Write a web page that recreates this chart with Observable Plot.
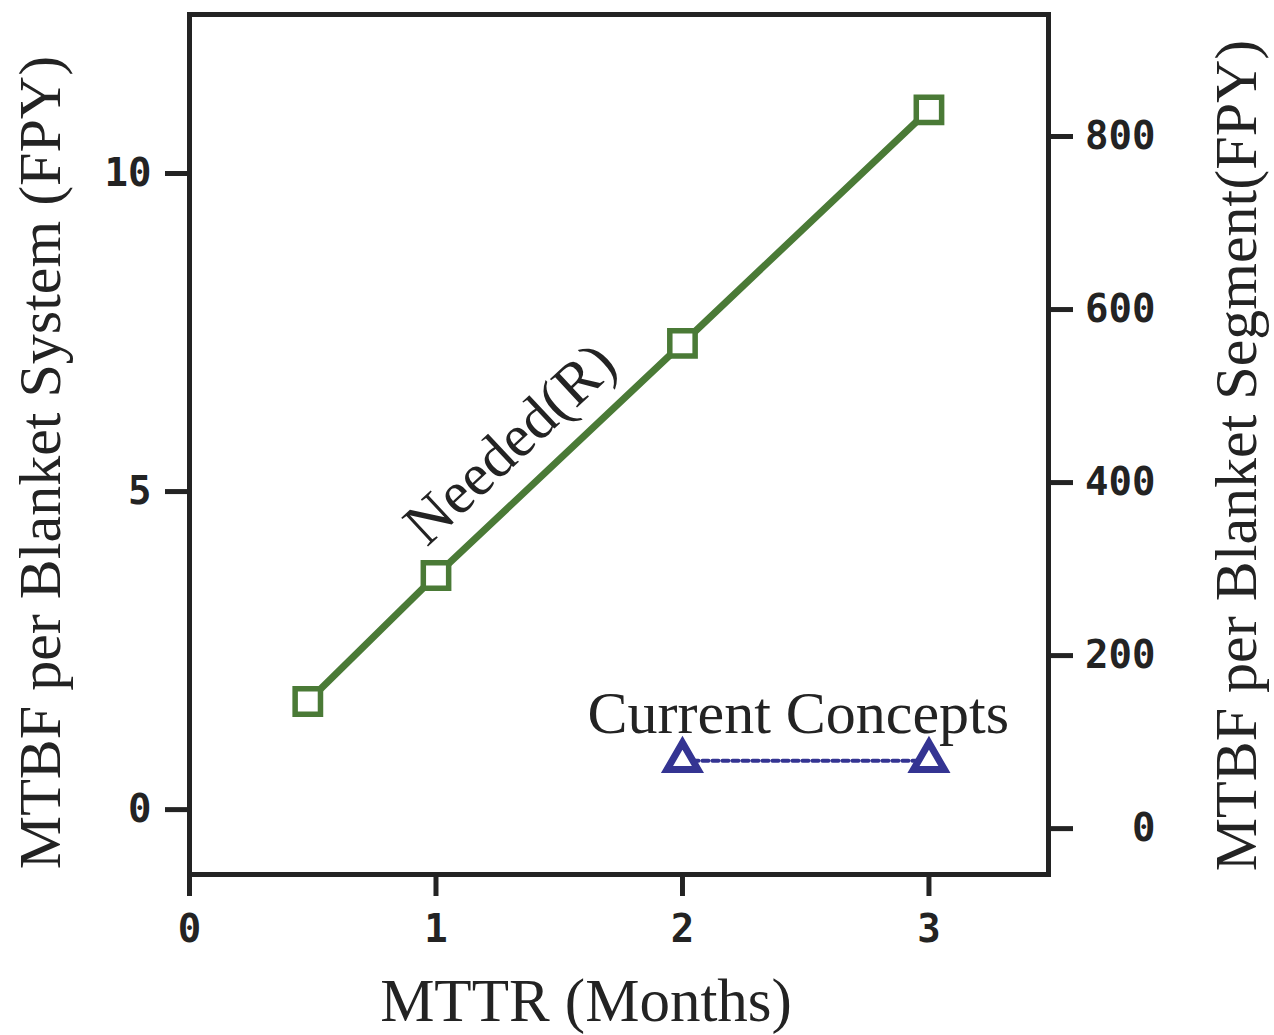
<!DOCTYPE html>
<html>
<head>
<meta charset="utf-8">
<script src="https://cdn.jsdelivr.net/npm/d3@7"></script>
<script src="https://cdn.jsdelivr.net/npm/@observablehq/plot@0.6"></script>
<style>
  html, body { margin: 0; padding: 0; background: #fff; overflow: hidden; }
</style>
</head>
<body>
<div id="chart"></div>
<script>
// Data
const neededMTTR = [0.48, 1, 2, 3];
const neededMTBF = [1.70, 3.68, 7.33, 11.0];
const currentMTTR = [2, 3];
const currentMTBF = [0.77, 0.77];

const xTicks = [0, 1, 2, 3];
const leftTicks = [0, 5, 10];
const rightTicks = [0, 200, 400, 600, 800];

const xLabel = "MTTR (Months)";
const leftLabel = "MTBF per Blanket System (FPY)";
const rightLabel = "MTBF per Blanket Segment(FPY)";
const neededLabel = "Needed(R)";
const currentLabel = "Current Concepts";

// right axis (segment) expressed in left-axis units
const rightToLeft = (r) => (0.865 * r - 19) / 63.6;

const needed = neededMTTR.map((x, i) => ({x, y: neededMTBF[i]}));
const current = currentMTTR.map((x, i) => ({x, y: currentMTBF[i]}));

const green = "#4a7a36";
const navy = "#343492";
const ink = "#232323";
const serif = "'Liberation Serif', 'Times New Roman', serif";
const mono = "'DejaVu Sans Mono', monospace";
const tickFont = 39;

const chart = Plot.plot({
  width: 1274,
  height: 1035,
  marginLeft: 189,
  marginRight: 226,
  marginTop: 14,
  marginBottom: 161,
  style: {background: "#fff", maxWidth: "none", overflow: "visible"},
  x: {domain: [0, 3.485]},
  y: {domain: [-1.02, 12.5]},
  marks: [
    Plot.axisX(xTicks, {
      tickSize: 22, tickPadding: 18, strokeWidth: 5, stroke: ink,
      fontSize: tickFont, fontWeight: "bold", fontFamily: mono, fill: ink,
      label: null, tickFormat: d => String(d)
    }),
    Plot.axisY(leftTicks, {
      anchor: "left", tickSize: 24, tickPadding: 14, strokeWidth: 5, stroke: ink,
      fontSize: tickFont, fontWeight: "bold", fontFamily: mono, fill: ink,
      label: null, tickFormat: d => String(d)
    }),
    Plot.axisY(rightTicks.map(rightToLeft), {
      anchor: "right", tickSize: 24, strokeWidth: 5, stroke: ink,
      label: null, tickFormat: () => ""
    }),
    Plot.text(rightTicks, {
      frameAnchor: "right", y: d => rightToLeft(d), text: d => String(d),
      dx: 107, textAnchor: "end", lineAnchor: "middle",
      fontSize: tickFont, fontWeight: "bold", fontFamily: mono, fill: ink
    }),
    Plot.frame({stroke: ink, strokeWidth: 5}),
    Plot.line(needed, {x: "x", y: "y", stroke: green, strokeWidth: 7}),
    Plot.dot(needed, {x: "x", y: "y", symbol: "square", r: 14.3, stroke: green, strokeWidth: 5.5, fill: "#fff"}),
    Plot.line(current, {x: "x", y: "y", stroke: navy, strokeWidth: 4, strokeDasharray: "6,4"}),
    Plot.dot(current, {x: "x", y: "y", symbol: "triangle", r: 11.5, stroke: navy, strokeWidth: 7, fill: "#fff"}),
    Plot.text([neededLabel], {
      x: [1.3], y: [5.75], text: d => d, rotate: -43,
      fontSize: 60, fontFamily: serif, fill: ink, textAnchor: "middle", lineAnchor: "middle"
    }),
    Plot.text([currentLabel], {
      x: [2.47], y: [1.5], text: d => d,
      fontSize: 60, fontFamily: serif, fill: ink, textAnchor: "middle", lineAnchor: "middle"
    }),
    Plot.text([xLabel], {
      frameAnchor: "bottom", text: d => d, dx: -33, dy: 127,
      fontSize: 61, fontFamily: serif, fill: ink, textAnchor: "middle", lineAnchor: "middle"
    }),
    Plot.text([leftLabel], {
      frameAnchor: "left", text: d => d, rotate: -90, dx: -149, dy: 18,
      fontSize: 60, fontFamily: serif, fill: ink, textAnchor: "middle", lineAnchor: "middle"
    }),
    Plot.text([rightLabel], {
      frameAnchor: "right", text: d => d, rotate: -90, dx: 188, dy: 11,
      fontSize: 60, fontFamily: serif, fill: ink, textAnchor: "middle", lineAnchor: "middle"
    })
  ]
});
document.getElementById("chart").appendChild(chart);
</script>
</body>
</html>
